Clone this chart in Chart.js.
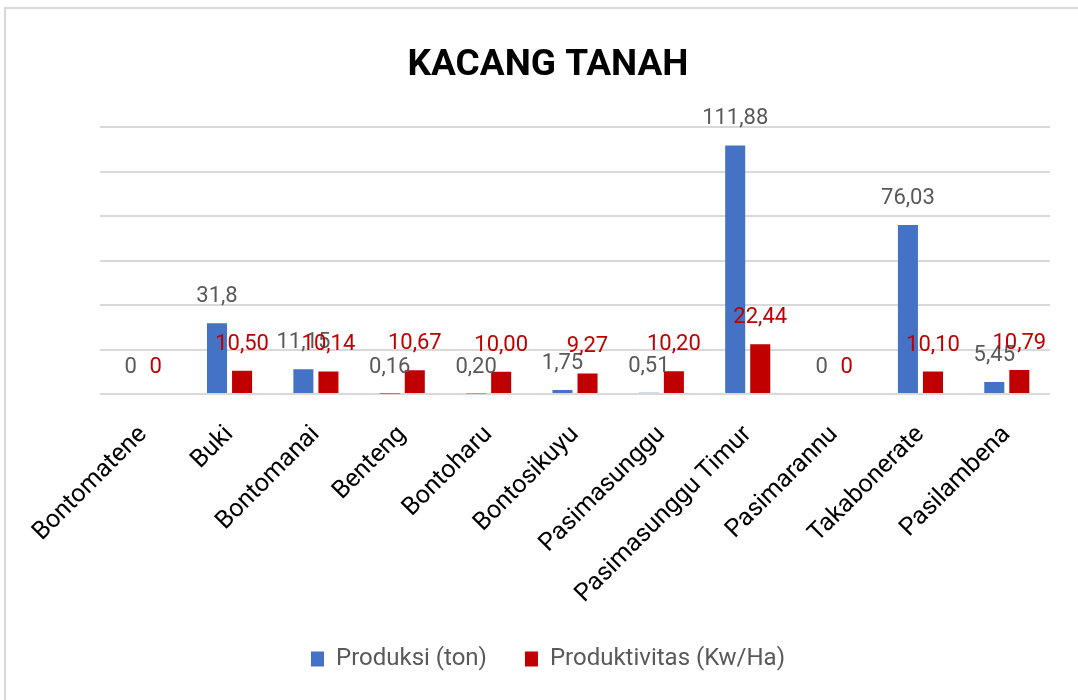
<!DOCTYPE html>
<html>
<head>
<meta charset="utf-8">
<script src="https://cdn.jsdelivr.net/npm/chart.js@4.4.1/dist/chart.umd.min.js"></script>
<style>
    html, body { margin: 0; padding: 0; background: #fff; }
    #wrap { position: relative; width: 1078px; height: 700px; overflow: hidden; }
    #frame { position: absolute; left: 4px; top: 7px; width: 1100px; height: 720px; border: 2px solid #d9d9d9; pointer-events: none; }
</style>
</head>
<body>
<div id="wrap">
    <canvas id="KacangTanah" width="1100" height="700"></canvas>
    <div id="frame"></div>
</div>
<script>
var desa = ['Bontomatene', 'Buki', 'Bontomanai', 'Benteng', 'Bontoharu', 'Bontosikuyu',
    'Pasimasunggu', 'Pasimasunggu Timur', 'Pasimarannu', 'Takabonerate', 'Pasilambena'];

var produksi = [0, 31.8, 11.15, 0.16, 0.20, 1.75, 0.51, 111.88, 0, 76.03, 5.45];
var produksiLabels = ['0', '31,8', '11,15', '0,16', '0,20', '1,75', '0,51', '111,88', '0', '76,03', '5,45'];

var produktivitas = [0, 10.50, 10.14, 10.67, 10.00, 9.27, 10.20, 22.44, 0, 10.10, 10.79];
var produktivitasLabels = ['0', '10,50', '10,14', '10,67', '10,00', '9,27', '10,20', '22,44', '0', '10,10', '10,79'];

var fontFamily = 'Roboto, "Noto Sans", sans-serif';

// draws the value above each bar
var valueLabels = {
    id: 'valueLabels',
    afterDatasetsDraw: function (chart) {
        var ctx = chart.ctx;
        var texts = [produksiLabels, produktivitasLabels];
        var colors = ['#595959', '#C00000'];

        ctx.save();
        ctx.font = '22px ' + fontFamily;
        ctx.textAlign = 'center';
        ctx.textBaseline = 'alphabetic';

        chart.data.datasets.forEach(function (ds, i) {
            var meta = chart.getDatasetMeta(i);
            ctx.fillStyle = colors[i];
            meta.data.forEach(function (bar, j) {
                ctx.fillText(texts[i][j], bar.x, bar.y - 21);
            });
        });
        ctx.restore();
    }
};

const data = {
    labels: desa,
    datasets: [{
        label: 'Produksi (ton)',
        data: produksi,
        backgroundColor: '#4472C4'
    }, {
        label: 'Produktivitas (Kw/Ha)',
        data: produktivitas,
        backgroundColor: '#C00000'
    }]
};

const config = {
    type: 'bar',
    data: data,
    options: {
        responsive: false,
        animation: false,
        datasets: {
            bar: {
                categoryPercentage: 0.58,
                barPercentage: 0.8
            }
        },
        layout: {
            padding: { left: 0, right: 4, top: 0, bottom: 19 }
        },
        plugins: {
            title: {
                display: true,
                text: 'KACANG TANAH',
                color: '#000',
                font: { family: fontFamily, size: 37, weight: 'bold' },
                padding: { top: 44, bottom: 39 }
            },
            legend: {
                position: 'bottom',
                labels: {
                    color: '#595959',
                    boxWidth: 13,
                    boxHeight: 15,
                    padding: 38,
                    font: { family: fontFamily, size: 24 }
                }
            },
            tooltip: { enabled: false }
        },
        scales: {
            x: {
                grid: { display: false, drawTicks: false },
                border: { display: false },
                ticks: {
                    color: '#000',
                    minRotation: 45,
                    maxRotation: 45,
                    padding: 26,
                    font: { family: fontFamily, size: 25 }
                },
                afterFit: function (scale) {
                    scale.height = 215;
                }
            },
            y: {
                min: 0,
                max: 120,
                ticks: { display: false, stepSize: 20 },
                border: { display: false },
                grid: { color: '#d9d9d9', lineWidth: 2, drawTicks: false },
                afterFit: function (scale) {
                    scale.width = 100;
                }
            },
            // empty right margin so the title and legend centre like the original
            yRight: {
                position: 'right',
                ticks: { display: false },
                border: { display: false },
                grid: { display: false, drawTicks: false },
                afterFit: function (scale) {
                    scale.width = 46;
                }
            }
        }
    },
    plugins: [valueLabels]
};

new Chart(document.getElementById('KacangTanah'), config);
</script>
</body>
</html>
